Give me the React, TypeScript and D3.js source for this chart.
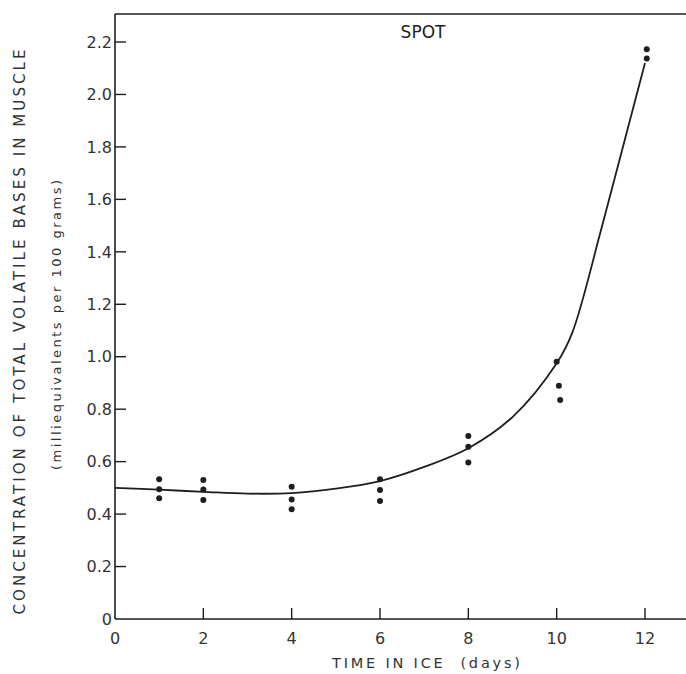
import React from "react";
import * as d3 from "d3";

// measured points: day, value (meq / 100 g)
const days = [1, 1, 1, 2, 2, 2, 4, 4, 4, 6, 6, 6, 8, 8, 8, 10, 10.05, 10.08, 12.04, 12.04];
const values = [0.533, 0.495, 0.46, 0.53, 0.494, 0.454, 0.504, 0.456, 0.418, 0.533, 0.492, 0.45, 0.698, 0.657, 0.597, 0.981, 0.889, 0.835, 2.172, 2.137];

// hand-drawn fitted curve
const curveDays = [0, 1, 2, 3, 4, 5, 6, 7, 8, 9, 10, 10.35, 11, 11.5, 12];
const curveValues = [0.5, 0.493, 0.485, 0.478, 0.48, 0.497, 0.526, 0.58, 0.651, 0.77, 0.975, 1.09, 1.48, 1.8, 2.12];

const xTicks = [0, 2, 4, 6, 8, 10, 12];
const yTicks = [0, 0.2, 0.4, 0.6, 0.8, 1.0, 1.2, 1.4, 1.6, 1.8, 2.0, 2.2];

const W = 686;
const H = 674;
const left = 115;
const top = 14;
const bottom = 619;
const ink = "#1e1e1e";
const font = "'DejaVu Sans', Verdana, sans-serif";

export default function App() {
    const x = d3.scaleLinear().domain([0, 12]).range([left, 645]);
    const y = d3.scaleLinear().domain([0, 2.2]).range([bottom, 42]);

    const line = d3
        .line<number>()
        .x((d, i) => x(curveDays[i]))
        .y(d => y(d))
        .curve(d3.curveCatmullRom.alpha(0.5));

    return (
        <svg
            width={W}
            height={H}
            style={{ position: "absolute", left: 0, top: 0, background: "#fff" }}
        >
            <g stroke={ink} strokeWidth={1.6} fill="none">
                <line x1={left} y1={top} x2={W} y2={top} />
                <line x1={left} y1={top} x2={left} y2={bottom} />
                <line x1={left} y1={bottom} x2={W} y2={bottom} />
            </g>

            {yTicks.map(t => (
                <g key={"y" + t}>
                    {t > 0 && (
                        <line x1={left} x2={left + 11} y1={y(t)} y2={y(t)} stroke={ink} strokeWidth={1.4} />
                    )}
                    <text
                        x={left - 3}
                        y={y(t)}
                        dy="0.36em"
                        textAnchor="end"
                        fontFamily={font}
                        fontSize={16}
                        fill="#333"
                    >
                        {t === 0 ? "0" : t.toFixed(1)}
                    </text>
                </g>
            ))}

            {xTicks.map(t => (
                <g key={"x" + t}>
                    {t > 0 && (
                        <line x1={x(t)} x2={x(t)} y1={bottom} y2={bottom - 11} stroke={ink} strokeWidth={1.4} />
                    )}
                    <text
                        x={x(t)}
                        y={644}
                        textAnchor="middle"
                        fontFamily={font}
                        fontSize={16}
                        fill="#333"
                    >
                        {t}
                    </text>
                </g>
            ))}

            <path d={line(curveValues) || ""} fill="none" stroke={ink} strokeWidth={1.8} />

            {values.map((v, i) => (
                <circle key={"p" + i} cx={x(days[i])} cy={y(v)} r={3} fill={ink} />
            ))}

            <text x={423} y={38} textAnchor="middle" fontFamily={font} fontSize={17} fill={ink}>
                SPOT
            </text>

            <text
                x={426}
                y={668}
                textAnchor="middle"
                fontFamily={font}
                fontSize={14.5}
                fill="#333"
                textLength={188}
                lengthAdjust="spacing"
                style={{ whiteSpace: "pre" }}
            >
                {"TIME IN ICE  (days)"}
            </text>

            <text
                transform="translate(25,332) rotate(-90)"
                textAnchor="middle"
                fontFamily={font}
                fontSize={15}
                fill="#333"
                textLength={565}
                lengthAdjust="spacing"
            >
                CONCENTRATION OF TOTAL VOLATILE BASES IN MUSCLE
            </text>

            <text
                transform="translate(61,325) rotate(-90)"
                textAnchor="middle"
                fontFamily={font}
                fontSize={13}
                fill="#333"
                textLength={290}
                lengthAdjust="spacing"
            >
                (milliequivalents per 100 grams)
            </text>
        </svg>
    );
}
